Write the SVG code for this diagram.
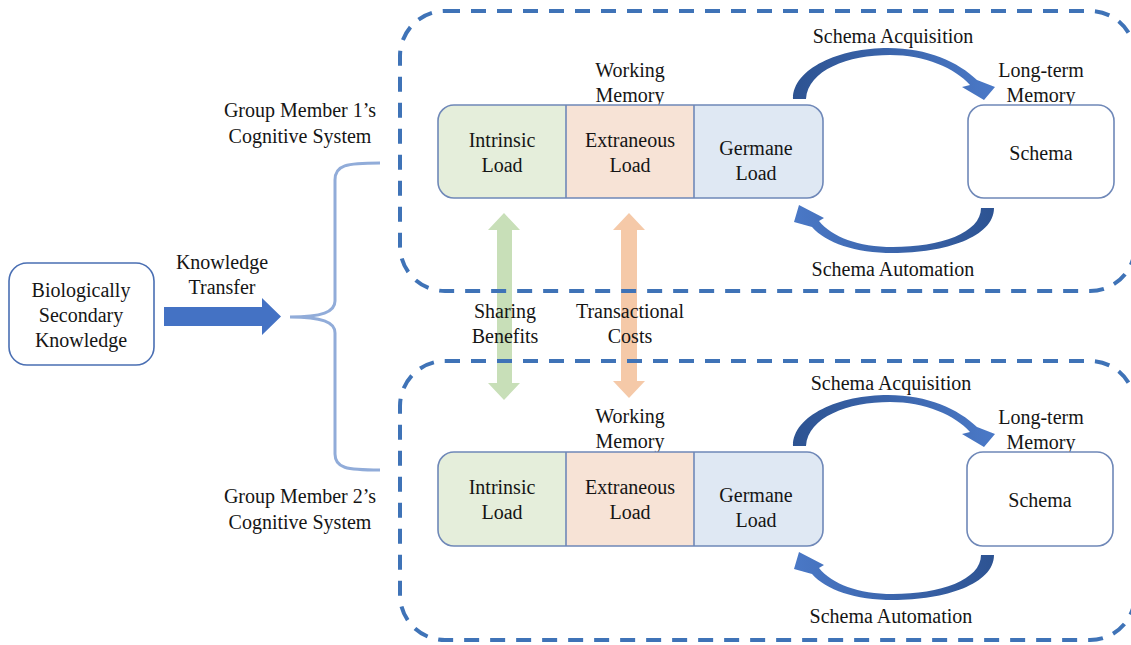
<svg xmlns="http://www.w3.org/2000/svg" width="1131" height="645" viewBox="0 0 1131 645" font-family="'Liberation Serif', 'DejaVu Serif', serif">
  <defs>
    <style>
      text { font-family: "Liberation Serif", "DejaVu Serif", serif; font-size: 20px; fill: #151515; text-anchor: middle; }
      .system { fill: none; stroke: #3f73b7; stroke-width: 4; stroke-dasharray: 15 11; }
      .wm-outline { fill: none; stroke: #6f88b8; stroke-width: 1.6; }
      .divider { stroke: #6f88b8; stroke-width: 1.6; }
      .intrinsic { fill: #e5eedb; }
      .extraneous { fill: #f7e3d6; }
      .germane { fill: #dfe8f3; }
      .schema-box { fill: #ffffff; stroke: #6f88b8; stroke-width: 1.6; }
      .source-box { fill: #ffffff; stroke: #4a6fb3; stroke-width: 1.6; }
      .brace { fill: none; stroke: #91acd9; stroke-width: 3; }
      .acq { fill: url(#acqGrad); }
      .auto { fill: url(#autoGrad); }
    </style>
    <linearGradient id="acqGrad" gradientUnits="userSpaceOnUse" x1="795" y1="0" x2="990" y2="0">
      <stop offset="0" stop-color="#2d5392"/>
      <stop offset="1" stop-color="#4a78c6"/>
    </linearGradient>
    <linearGradient id="autoGrad" gradientUnits="userSpaceOnUse" x1="994" y1="0" x2="795" y2="0">
      <stop offset="0" stop-color="#2d5392"/>
      <stop offset="1" stop-color="#4a78c6"/>
    </linearGradient>
    <!-- curved loop arrows, drawn once and placed per member -->
    <path id="acqArrow" d="M793,99 C793,68 840,48 888,48 C928,48 958,62 977,80 L995,87 L984,100 L962,87 L970,85 C955,68 925,55 890,55 C848,55 808,70 806,99 Z"/>
    <path id="autoArrow" d="M994,208 C994,237 945,253 893,253 C855,253 826,243 812,227 L794,222 L799,205 L824,218 L819,221 C832,237 858,247 893,247 C940,247 981,233 981,208 Z"/>
    <clipPath id="wmClip1"><rect x="438" y="105" width="385" height="93" rx="16"/></clipPath>
    <clipPath id="wmClip2"><rect x="438" y="452" width="385" height="94" rx="16"/></clipPath>
  </defs>

  <rect width="1131" height="645" fill="#ffffff"/>

  <!-- exchange arrows between the two members -->
  <g id="sharing-benefits">
    <polygon points="504,213 520,230 512,230 512,383 520,383 504,400 488,383 497,383 497,230 488,230" fill="#c8dfb8"/>
    <text x="505" y="318">Sharing</text>
    <text x="505" y="343">Benefits</text>
  </g>
  <g id="transactional-costs">
    <polygon points="629,213 645,230 637,230 637,381 645,381 629,398 613,381 621,381 621,230 613,230" fill="#f5c9a8"/>
    <text x="630" y="318">Transactional</text>
    <text x="630" y="343">Costs</text>
  </g>

  <!-- cognitive system boundaries -->
  <g id="member1-system">
    <rect class="system" x="400" y="11" width="735" height="280" rx="45"/>
  </g>
  <g id="member2-system">
    <rect class="system" x="400" y="361" width="735" height="279" rx="45"/>
  </g>

  <!-- source knowledge -->
  <g id="source-knowledge">
    <rect class="source-box" x="9" y="263" width="145" height="102" rx="18"/>
    <text x="81" y="297">Biologically</text>
    <text x="81" y="322">Secondary</text>
    <text x="81" y="347">Knowledge</text>
  </g>

  <g id="connectors">
    <!-- knowledge transfer block arrow -->
    <polygon points="164,307 262,307 262,298 281,316.5 262,335 262,326 164,326" fill="#4472c4"/>
    <text x="222" y="269">Knowledge</text>
    <text x="222" y="294">Transfer</text>
    <!-- brace splitting into both members -->
    <path class="brace" d="M380,163 C346,163 335,165 335,180 L335,301 C335,312 322,317 290,317 C322,317 335,322 335,333 L335,454 C335,468 346,470 380,470"/>

    <!-- member 1 schema loop -->
    <use href="#acqArrow" class="acq"/>
    <use href="#autoArrow" class="auto"/>
    <!-- member 2 schema loop -->
    <g transform="translate(0,347)">
      <use href="#acqArrow" class="acq"/>
      <use href="#autoArrow" class="auto"/>
    </g>
  </g>

  <g id="member1-label">
    <text x="300" y="117">Group Member 1’s</text>
    <text x="300" y="143">Cognitive System</text>
  </g>
  <g id="member2-label">
    <text x="300" y="503">Group Member 2’s</text>
    <text x="300" y="529">Cognitive System</text>
  </g>

  <!-- member 1 working memory -->
  <g id="member1-working-memory">
    <text x="630" y="77">Working</text>
    <text x="630" y="102">Memory</text>
    <g clip-path="url(#wmClip1)">
      <rect class="intrinsic" x="438" y="105" width="128" height="93"/>
      <rect class="extraneous" x="566" y="105" width="128" height="93"/>
      <rect class="germane" x="694" y="105" width="129" height="93"/>
    </g>
    <line class="divider" x1="566" y1="105" x2="566" y2="198"/>
    <line class="divider" x1="694" y1="105" x2="694" y2="198"/>
    <rect class="wm-outline" x="438" y="105" width="385" height="93" rx="16"/>
    <text x="502" y="147">Intrinsic</text>
    <text x="502" y="172">Load</text>
    <text x="630" y="147">Extraneous</text>
    <text x="630" y="172">Load</text>
    <text x="756" y="155">Germane</text>
    <text x="756" y="180">Load</text>
  </g>

  <!-- member 1 long-term memory -->
  <g id="member1-long-term-memory">
    <text x="1041" y="77">Long-term</text>
    <text x="1041" y="102">Memory</text>
    <rect class="schema-box" x="968" y="105" width="146" height="93" rx="16"/>
    <text x="1041" y="160">Schema</text>
  </g>
  <g id="member1-loop-labels">
    <text x="893" y="43">Schema Acquisition</text>
    <text x="893" y="276">Schema Automation</text>
  </g>

  <!-- member 2 working memory -->
  <g id="member2-working-memory">
    <text x="630" y="423">Working</text>
    <text x="630" y="448">Memory</text>
    <g clip-path="url(#wmClip2)">
      <rect class="intrinsic" x="438" y="452" width="128" height="94"/>
      <rect class="extraneous" x="566" y="452" width="128" height="94"/>
      <rect class="germane" x="694" y="452" width="129" height="94"/>
    </g>
    <line class="divider" x1="566" y1="452" x2="566" y2="546"/>
    <line class="divider" x1="694" y1="452" x2="694" y2="546"/>
    <rect class="wm-outline" x="438" y="452" width="385" height="94" rx="16"/>
    <text x="502" y="494">Intrinsic</text>
    <text x="502" y="519">Load</text>
    <text x="630" y="494">Extraneous</text>
    <text x="630" y="519">Load</text>
    <text x="756" y="502">Germane</text>
    <text x="756" y="527">Load</text>
  </g>

  <!-- member 2 long-term memory -->
  <g id="member2-long-term-memory">
    <text x="1041" y="424">Long-term</text>
    <text x="1041" y="449">Memory</text>
    <rect class="schema-box" x="967" y="452" width="146" height="94" rx="16"/>
    <text x="1040" y="507">Schema</text>
  </g>
  <g id="member2-loop-labels">
    <text x="891" y="390">Schema Acquisition</text>
    <text x="891" y="623">Schema Automation</text>
  </g>
</svg>
